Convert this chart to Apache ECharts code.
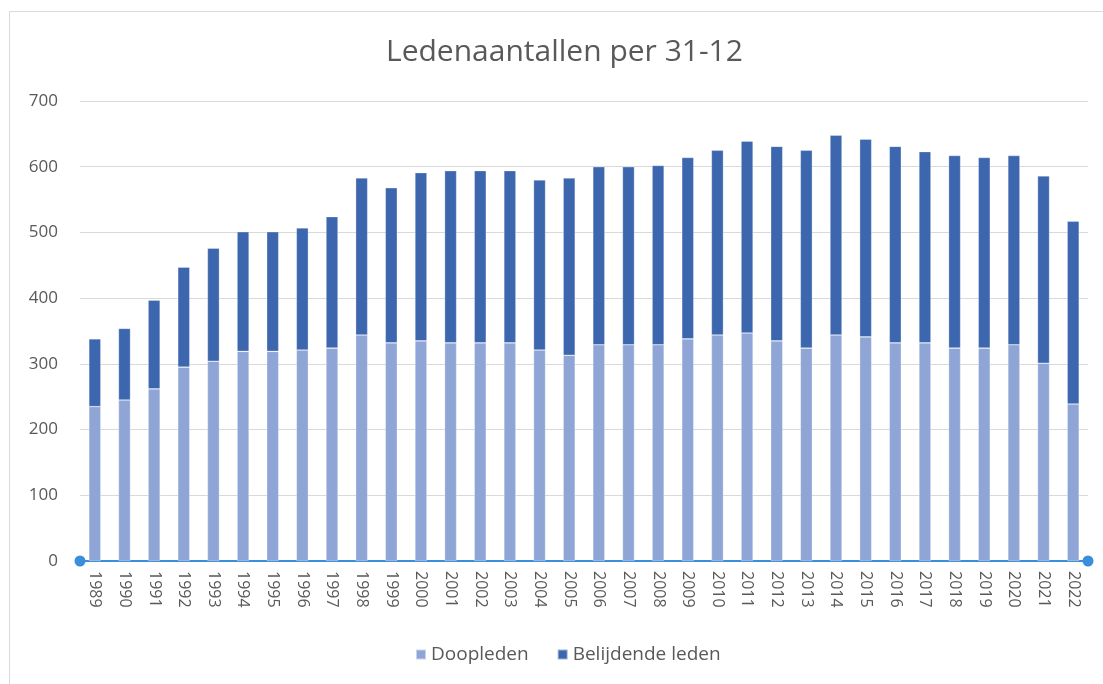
<!DOCTYPE html>
<html>
<head>
<meta charset="utf-8">
<title>Ledenaantallen per 31-12</title>
<script src="https://cdn.jsdelivr.net/npm/echarts@6/dist/echarts.min.js"></script>
<style>
	html, body { margin: 0; padding: 0; background: #fff; }
	#ledenChart { width: 1103px; height: 684px; }
</style>
</head>
<body>
<div id="ledenChart"></div>
<script>
"use strict";

/*****Data start*****/
var jaren = ['1989','1990','1991','1992','1993','1994','1995','1996','1997','1998','1999','2000',
	'2001','2002','2003','2004','2005','2006','2007','2008','2009','2010','2011','2012',
	'2013','2014','2015','2016','2017','2018','2019','2020','2021','2022'];
var doopleden = [235, 245, 262, 295, 304, 319, 319, 321, 324, 344, 332, 335,
	332, 332, 332, 321, 313, 329, 329, 329, 338, 344, 347, 335,
	324, 344, 341, 332, 332, 324, 324, 329, 301, 239];
var belijdendeLeden = [103, 109, 135, 152, 172, 182, 182, 186, 200, 239, 236, 256,
	262, 262, 262, 259, 270, 271, 271, 273, 276, 281, 292, 296,
	301, 304, 301, 299, 291, 293, 290, 288, 285, 278];
var yTicks = [0, 100, 200, 300, 400, 500, 600, 700];
/*****Data end*****/

/*****E-Charts function start*****/
var echartsConfig = function() {
	var chart = echarts.init(document.getElementById('ledenChart'));
	var textColor = '#595959';
	var option = {
		color: ['#8FA5D6', '#3C66AE'],
		animation: false,
		textStyle: {
			fontFamily: "'Open Sans', sans-serif"
		},
		title: {
			text: 'Ledenaantallen per 31-12',
			left: 381,
			top: 32,
			textStyle: {
				color: textColor,
				fontSize: 30,
				fontWeight: 'normal',
				fontFamily: "'Open Sans', sans-serif"
			}
		},
		legend: {
			bottom: 15,
			left: 410,
			itemWidth: 10,
			itemHeight: 10,
			itemGap: 28,
			icon: 'rect',
			textStyle: {
				color: textColor,
				fontSize: 19
			},
			data: ['Doopleden', 'Belijdende leden']
		},
		grid: {
			left: 80,
			right: 15,
			top: 101,
			bottom: 123
		},
		xAxis: {
			type: 'category',
			data: jaren,
			axisTick: { show: false },
			axisLine: {
				show: true,
				symbol: ['circle', 'circle'],
				symbolSize: [11, 11],
				lineStyle: { color: '#3A8FDB', width: 2 }
			},
			axisLabel: {
				rotate: -90,
				interval: 0,
				color: textColor,
				fontSize: 16,
				margin: 10
			}
		},
		yAxis: {
			type: 'value',
			min: yTicks[0],
			max: yTicks[yTicks.length - 1],
			interval: 100,
			axisLine: { show: false },
			axisTick: { show: false },
			axisLabel: {
				color: textColor,
				fontSize: 17,
				margin: 22
			},
			splitLine: {
				lineStyle: { color: '#D9D9D9', width: 1 }
			}
		},
		graphic: [
			{
				type: 'rect',
				silent: true,
				shape: { x: 9.5, y: 11.5, width: 1200, height: 1000 },
				style: { fill: 'none', stroke: '#D9D9D9', lineWidth: 1 }
			}
		],
		series: [
			{
				name: 'Doopleden',
				type: 'bar',
				stack: 'leden',
				barWidth: 12,
				itemStyle: { borderColor: 'rgba(255,255,255,0.5)', borderWidth: 0.6 },
				data: doopleden
			},
			{
				name: 'Belijdende leden',
				type: 'bar',
				stack: 'leden',
				barWidth: 12,
				itemStyle: { borderColor: 'rgba(255,255,255,0.5)', borderWidth: 0.6 },
				data: belijdendeLeden
			}
		]
	};
	chart.setOption(option);
};
/*****E-Charts function end*****/

echartsConfig();
</script>
</body>
</html>
